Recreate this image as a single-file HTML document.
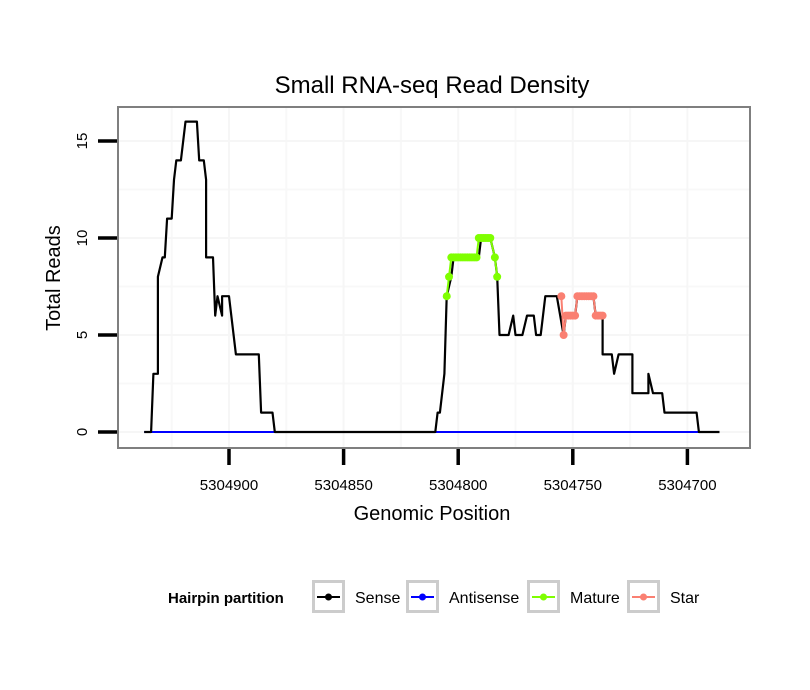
<!DOCTYPE html>
<html><head><meta charset="utf-8"><style>
body{margin:0;background:#fff;}
svg{display:block;font-family:"Liberation Sans",Arial,sans-serif;}
</style></head><body>
<svg id="chart" width="810" height="690" viewBox="0 0 810 690">
<text x="432" y="93" text-anchor="middle" font-size="24">Small RNA-seq Read Density</text>
<rect x="118" y="107" width="632" height="341" fill="#fff"/>
<g id="grid"></g>
<g id="series"></g>
<rect x="118" y="107" width="632" height="341" fill="none" stroke="#7f7f7f" stroke-width="2"/>
<g id="axes"></g>
<text x="432" y="520" text-anchor="middle" font-size="20">Genomic Position</text>
<text transform="translate(60,278) rotate(-90)" text-anchor="middle" font-size="20">Total Reads</text>
<g>
<text x="168" y="603" font-size="15" font-weight="bold">Hairpin partition</text>
<g id="legend"></g>
</g>
</svg>
<script>
const xTicks=[5304900,5304850,5304800,5304750,5304700];
const yTicks=[0,5,10,15];
const sensePos=[5304937,5304934,5304933,5304931,5304931,5304929,5304928,5304927,5304925,5304924,5304924,5304923,5304921,5304919,5304914,5304913,5304911,5304910,5304910,5304907,5304906,5304905,5304903,5304903,5304900,5304897,5304887,5304886,5304881,5304880,5304810,5304809,5304808,5304806,5304805,5304803,5304802,5304791,5304790,5304786,5304784,5304783,5304782,5304778,5304776,5304775,5304772,5304770,5304767,5304766,5304764,5304762,5304757,5304754,5304753,5304749,5304748,5304741,5304740,5304737,5304737,5304733,5304732,5304730,5304724,5304724,5304717,5304717,5304715,5304711,5304710,5304696,5304695,5304686];
const senseVal=[0,0,3,3,8,9,9,11,11,13,13,14,14,16,16,14,14,13,9,9,6,7,6,7,7,4,4,1,1,0,0,1,1,3,7,8,9,9,10,10,9,8,5,5,6,5,5,6,6,5,5,7,7,5,6,6,7,7,6,6,4,4,3,4,4,2,2,3,2,2,1,1,0,0];
const antiPos=[5304937,5304880,5304810,5304695];
const antiVal=[0,0,0,0];
const maturePos=[5304805,5304804,5304803,5304802,5304801,5304800,5304799,5304798,5304797,5304796,5304795,5304794,5304793,5304792,5304791,5304790,5304789,5304788,5304787,5304786,5304784,5304783];
const matureVal=[7,8,9,9,9,9,9,9,9,9,9,9,9,9,10,10,10,10,10,10,9,8];
const starPos=[5304755,5304754,5304753,5304752,5304751,5304750,5304749,5304748,5304747,5304746,5304745,5304744,5304743,5304742,5304741,5304740,5304739,5304738,5304737];
const starVal=[7,5,6,6,6,6,6,7,7,7,7,7,7,7,7,6,6,6,6];
const NS='http://www.w3.org/2000/svg';
const xs=p=>229+(5304900-p)*2.292;
const ys=v=>432-v*19.4;
function mk(t,a,parent){const e=document.createElementNS(NS,t);for(const k in a)e.setAttribute(k,a[k]);parent.appendChild(e);return e;}
const grid=document.getElementById('grid');
[5304925,5304875,5304825,5304775,5304725].forEach(p=>{const l=mk('line',{x1:xs(p),x2:xs(p),y1:108,y2:447,stroke:'#f8f8f8','stroke-width':2},grid);

});
[2.5,7.5,12.5].forEach(v=>{const l=mk('line',{x1:119,x2:749,y1:ys(v),y2:ys(v),stroke:'#f8f8f8','stroke-width':2},grid);

});
xTicks.forEach(p=>{const l=mk('line',{x1:xs(p),x2:xs(p),y1:108,y2:447,stroke:'#f6f6f6','stroke-width':2},grid);

});
yTicks.forEach(v=>{const l=mk('line',{x1:119,x2:749,y1:ys(v),y2:ys(v),stroke:'#f6f6f6','stroke-width':2},grid);

});
const ser=document.getElementById('series');
function path(P,V){return P.map((p,i)=>(i?'L':'M')+xs(p).toFixed(1)+','+ys(V[i]).toFixed(1)).join('');}
const a=mk('path',{d:path(antiPos,antiVal),fill:'none',stroke:'#0000ff','stroke-width':2},ser);


const s=mk('path',{d:path(sensePos,senseVal),fill:'none',stroke:'#000','stroke-width':2.2,'stroke-linejoin':'round'},ser);


[[maturePos,matureVal,'#7fff00','mature'],[starPos,starVal,'#fa8072','star']].forEach(([P,V,c,n])=>{
 const g=mk('g',{},ser);
 
 
 mk('path',{d:path(P,V),fill:'none',stroke:c,'stroke-width':2},g);
 P.forEach((p,i)=>{const d=mk('circle',{cx:xs(p),cy:ys(V[i]),r:4,fill:c},g);
 
 });
});
const ax=document.getElementById('axes');
xTicks.forEach(p=>{const t=mk('line',{x1:xs(p),x2:xs(p),y1:449,y2:465,stroke:'#000','stroke-width':3.5},ax);


const l=mk('text',{x:xs(p),y:490,'text-anchor':'middle','font-size':15},ax);l.textContent=p;

});
yTicks.forEach(v=>{const t=mk('line',{x1:98,x2:117,y1:ys(v),y2:ys(v),stroke:'#000','stroke-width':3.5},ax);


const l=mk('text',{transform:'translate(87,'+ys(v)+') rotate(-90)','text-anchor':'middle','font-size':15},ax);l.textContent=v;

});
const leg=document.getElementById('legend');
[['Sense','#000',312],['Antisense','#0000ff',406],['Mature','#7fff00',527],['Star','#fa8072',627]].forEach(([n,c,x])=>{
 const g=mk('g',{},leg);
 
 
 mk('rect',{x:x+1.5,y:581.5,width:30,height:30,fill:'#fff',stroke:'#cccccc','stroke-width':3},g);
 mk('line',{x1:x+5,x2:x+28,y1:597,y2:597,stroke:c,'stroke-width':2},g);
 mk('circle',{cx:x+16.5,cy:597,r:3.5,fill:c},g);
 const t=mk('text',{x:x+43,y:603,'font-size':16},g);t.textContent=n;
});
</script>
</body></html>
